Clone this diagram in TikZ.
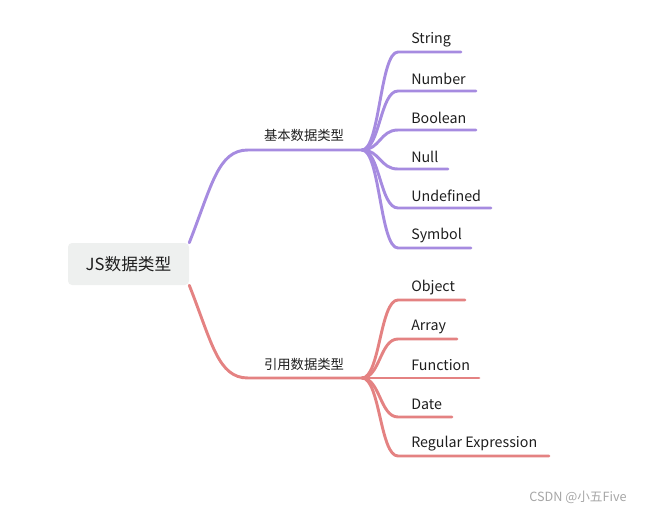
\documentclass[tikz,border=0pt]{standalone}
\usepackage{fontspec}
\setmainfont{Noto Sans CJK SC}
\definecolor{basiccol}{RGB}{166,139,224}
\definecolor{refcol}{RGB}{228,130,130}
\definecolor{rootfill}{RGB}{238,240,239}
\definecolor{txtcol}{RGB}{30,30,30}
\tikzset{
	rootbox/.style = {fill = rootfill, rounded corners = 3pt, minimum width = 90.75pt, minimum height = 31.5pt, inner sep = 0pt, text = txtcol, font = \fontsize{12.5}{14}\selectfont},
	branch/.style = {inner sep = 0pt, text = txtcol, font = \fontsize{10}{12}\selectfont},
	leaf/.style = {anchor = west, inner sep = 0pt, text = txtcol, font = \fontsize{10.7}{12}\selectfont},
	basicline/.style = {draw = basiccol, line width = 2.2pt, line cap = round},
	refline/.style = {draw = refcol, line width = 2.2pt, line cap = round}
}
\begin{document}
\begin{tikzpicture}[x = 0.75pt, y = -0.75pt]
	\useasboundingbox (0,0) rectangle (651,515);
	% root
	\node[rootbox] (root) at (128.5,264) {JS数据类型};
	% basic types
	\node[branch] (basic) at (304,135) {基本数据类型};
	\coordinate (basic-l) at (248,150);
	\coordinate (basic-j) at (362,150);
	\draw[basicline] (root.north east) .. controls (212,185) and (218,150) .. (basic-l) -- (basic-j);
	\foreach \n/\t/\y/\e in {str/String/52/461, num/Number/91/476, bool/Boolean/130/476, null/Null/169/448, undef/Undefined/208/491, sym/Symbol/248/471} {
		\node[leaf] (\n) at (411,\y-12.5) {\t};
		\coordinate (\n-l) at (398,\y);
		\coordinate (\n-r) at (\e,\y);
		\draw[basicline] (basic-j) .. controls +(18,0) and +(-18,0) .. (\n-l) -- (\n-r);
	}
	% reference types
	\node[branch] (ref) at (304,364.5) {引用数据类型};
	\coordinate (ref-l) at (248,378);
	\coordinate (ref-j) at (362,378);
	\draw[refline] (root.south east) .. controls (212,343) and (218,378) .. (ref-l) -- (ref-j);
	\foreach \n/\t/\y/\e in {obj/Object/300/465, arr/Array/339/457, func/Function/378/479, date/Date/417/452, regex/Regular Expression/456/549} {
		\node[leaf] (\n) at (411,\y-12.5) {\t};
		\coordinate (\n-l) at (398,\y);
		\coordinate (\n-r) at (\e,\y);
		\draw[refline] (ref-j) .. controls +(18,0) and +(-18,0) .. (\n-l) -- (\n-r);
	}
	% watermark
	\node[inner sep = 0pt, text = gray!70, font = \fontsize{9.5}{11}\selectfont] (mark) at (578,497) {CSDN @小五Five};
\end{tikzpicture}
\end{document}
